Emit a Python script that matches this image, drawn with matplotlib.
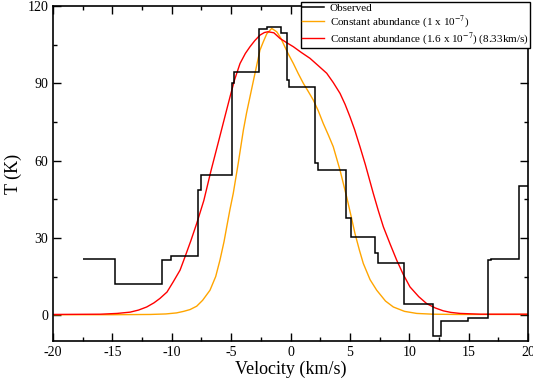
import numpy as np
import matplotlib
matplotlib.use('Agg')
import matplotlib.pyplot as plt
from matplotlib.ticker import MultipleLocator

plt.rcParams['font.family'] = ['Liberation Serif', 'DejaVu Serif']
plt.rcParams['mathtext.fontset'] = 'stix'
plt.rcParams['axes.unicode_minus'] = False

# Observed spectrum: channel edges (km/s) and brightness temperature (K)
obs_edges = [-17.5, -14.8, -10.8, -10.1, -7.8, -7.5, -4.95, -4.8, -2.63, -2.0,
             -0.83, -0.27, -0.13, 2.06, 2.34, 4.67, 5.09, 7.12, 7.37, 9.58,
             12.02, 12.65, 14.92, 16.66, 16.86, 19.27, 21.0]
obs_T = [22.0, 12.0, 21.6, 23.0, 48.5, 54.4, 90.0, 94.5, 111.0, 111.7,
         109.4, 91.3, 88.4, 58.9, 56.3, 37.8, 30.2, 24.2, 20.1, 4.5,
         -8.0, -2.2, -0.9, 21.6, 22.0, 50.2]

# Model 1: constant abundance 1e-7
v_const1 = [-20.0, -15.0, -11.8, -10.5, -9.6, -9.0, -8.46, -7.9, -7.4, -6.78,
            -6.3, -5.94, -5.6, -5.37, -5.1, -4.82, -4.4, -3.97, -3.7, -3.41,
            -2.99, -2.57, -2.3, -2.0, -1.58, -1.16, -0.85, -0.61, -0.2, 0.24,
            0.65, 1.08, 1.5, 1.92, 2.35, 2.76, 3.2, 3.6, 4.17, 4.73,
            5.1, 5.43, 5.8, 6.13, 6.7, 7.26, 8.0, 8.66, 9.6, 10.63,
            12.0, 14.0, 20.0]
T_const1 = [0.2, 0.2, 0.3, 0.5, 0.9, 1.5, 2.2, 3.5, 5.8, 9.7,
            15.0, 21.4, 28.5, 34.3, 41.0, 47.3, 59.0, 71.8, 78.5, 84.8,
            93.9, 102.9, 106.0, 109.2, 111.3, 110.0, 107.8, 105.5, 101.5, 97.7,
            93.8, 90.0, 86.8, 83.5, 79.2, 74.4, 69.8, 65.4, 56.3, 45.9,
            38.5, 31.7, 25.3, 20.1, 13.8, 9.7, 5.5, 3.2, 1.5, 0.7,
            0.4, 0.3, 0.3]

# Model 2: constant abundance 1.6e-7, 8.33 km/s
v_const2 = [-20.0, -16.0, -14.6, -13.5, -12.8, -12.11, -11.5, -11.0, -10.4, -9.87,
            -9.3, -8.88, -8.4, -7.9, -7.3, -6.7, -6.0, -5.5, -5.09, -4.7,
            -4.25, -3.8, -3.41, -3.0, -2.57, -2.2, -1.9, -1.4, -0.88, -0.3,
            0.24, 0.9, 1.64, 2.3, 3.05, 3.6, 4.17, 4.6, 5.01, 5.4,
            5.85, 6.3, 6.97, 7.4, 7.82, 8.4, 8.94, 9.5, 10.06, 10.8,
            11.47, 12.2, 12.87, 13.5, 14.27, 16.0, 20.0]
T_const2 = [0.3, 0.4, 0.7, 1.2, 2.0, 3.2, 4.8, 6.5, 9.0, 13.0,
            17.5, 22.7, 28.8, 35.6, 44.5, 56.0, 68.5, 77.5, 84.8, 91.5,
            97.7, 101.6, 104.2, 106.6, 108.7, 109.7, 110.0, 109.6, 107.4, 105.7,
            104.2, 102.0, 99.7, 97.0, 93.9, 90.3, 86.1, 81.8, 77.0, 72.0,
            65.4, 58.5, 47.3, 40.5, 34.3, 27.5, 21.4, 15.8, 11.0, 7.2,
            4.5, 2.8, 1.7, 1.1, 0.7, 0.4, 0.4]

fig = plt.figure(figsize=(5.33, 3.8), dpi=100)
ax = fig.add_axes([53 / 533, 1 - 341 / 380, 475 / 533, 335 / 380])

ax.stairs(obs_T, obs_edges, baseline=None, color='black', linewidth=1.1,
          label='Observed', zorder=3)
ax.plot(v_const1, T_const1, color='#FFA500', linewidth=1.0,
        label='Constant abundance (1 x 10$^{-7}$)', zorder=2)
ax.plot(v_const2, T_const2, color='#FF0000', linewidth=1.0,
        label='Constant abundance (1.6 x 10$^{-7}$) (8.33km/s)', zorder=2)

ax.set_xlim(-20, 20)
ax.set_ylim(-10, 120)
ax.xaxis.set_major_locator(MultipleLocator(5))
ax.xaxis.set_minor_locator(MultipleLocator(2.5))
ax.yaxis.set_major_locator(MultipleLocator(30))
ax.yaxis.set_minor_locator(MultipleLocator(15))
ax.tick_params(which='both', direction='in', top=True, right=True, labelsize=10,
               width=1.0)
ax.tick_params(which='major', length=6)
ax.tick_params(which='minor', length=3)
for s in ax.spines.values():
    s.set_linewidth(1.2)

ax.set_xlabel('Velocity (km/s)', fontsize=13, labelpad=1)
ax.set_ylabel('T (K)', fontsize=13, labelpad=4)

leg = ax.legend(loc='upper right', bbox_to_anchor=(1.004, 1.012), borderaxespad=0,
                fontsize=8, frameon=True, fancybox=False, framealpha=1,
                edgecolor='black', handlelength=2.0, handletextpad=0.5,
                labelspacing=0.05, borderpad=0.1)
leg.get_frame().set_linewidth(1.0)

fig.savefig('out.png', dpi=100)
